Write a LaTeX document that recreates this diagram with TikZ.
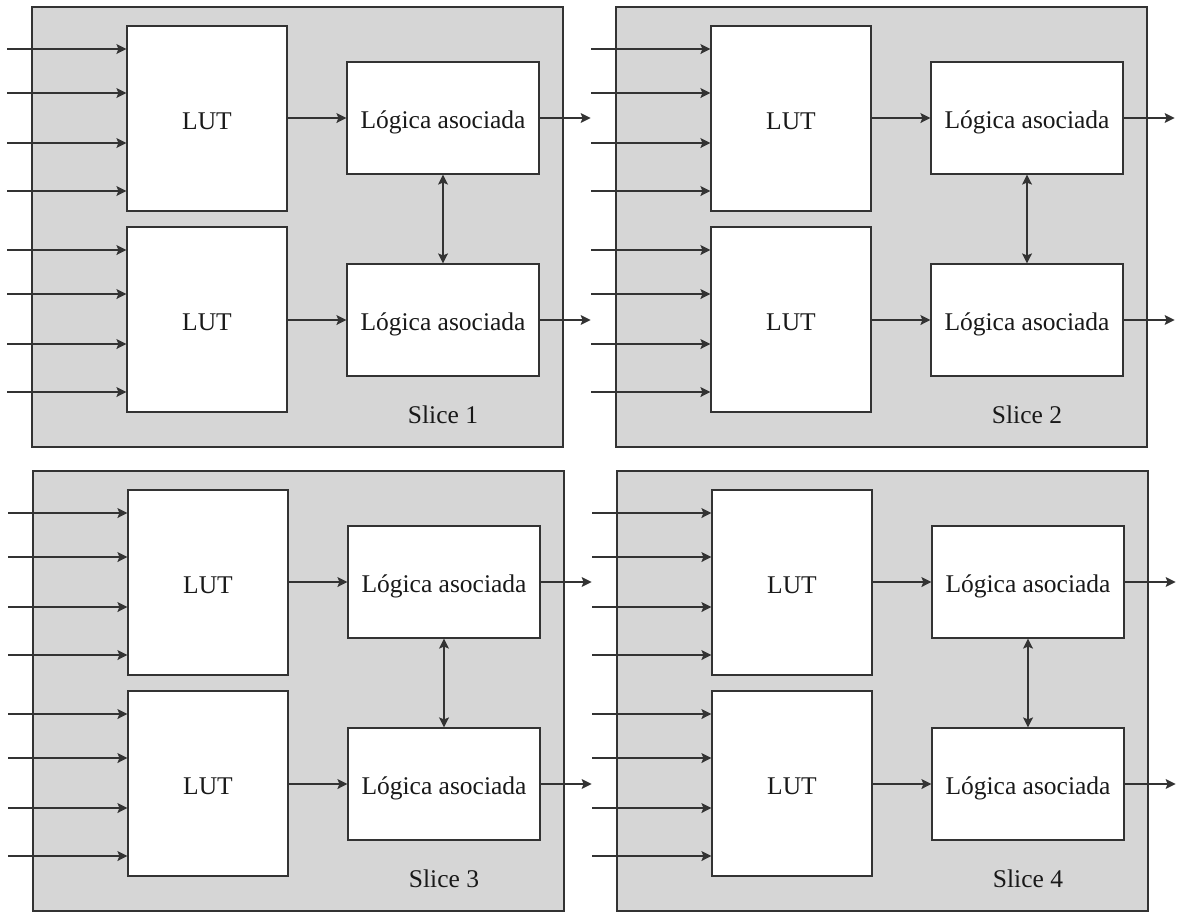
\documentclass[tikz,border=0pt]{standalone}
\usepackage{fontspec}
\setmainfont{Liberation Serif}
\usetikzlibrary{arrows.meta}
\definecolor{linegray}{HTML}{333333}
\definecolor{slicegray}{HTML}{D6D6D6}
\begin{document}
\begin{tikzpicture}[x=1pt,y=-1pt,line width=1.2pt,
    every node/.style={font=\fontsize{25.5}{30}\selectfont,text=black!90,inner sep=0pt},
    slice/.style={draw=linegray,fill=slicegray,minimum width=531pt,minimum height=440pt},
    lut/.style={draw=linegray,fill=white,minimum width=160pt,minimum height=185pt,text height=21pt,text depth=0pt},
    logic/.style={draw=linegray,fill=white,minimum width=192pt,minimum height=112pt,text height=21pt,text depth=0pt},
    arr/.style={draw=linegray,-{Stealth[length=10pt,width=10pt,inset=2pt]}},
    darr/.style={draw=linegray,{Stealth[length=10pt,width=10pt,inset=2pt]}-{Stealth[length=10pt,width=10pt,inset=2pt]}}]
  \useasboundingbox (0,0) rectangle (1181,916);
  \foreach \s/\dx/\dy in {1/0/0,2/584/0,3/1/464,4/585/464}{
    \begin{scope}[shift={(\dx,\dy)}]
      \node[slice] (slice\s) at (297.5,227) {};
      \node[lut] (lutA\s) at (207,118.5) {LUT};
      \node[lut] (lutB\s) at (207,319.5) {LUT};
      \node[logic] (logA\s) at (443,118) {Lógica asociada};
      \node[logic] (logB\s) at (443,320) {Lógica asociada};
      \node (label\s) at (443,415) {Slice \s};
      % entradas de las LUT
      \foreach \y in {23,67,117,165}{
        \coordinate (inA) at (7,{26+\y});
        \draw[arr] (inA) -- (inA -| lutA\s.west);
        \coordinate (inB) at (7,{227+\y});
        \draw[arr] (inB) -- (inB -| lutB\s.west);
      }
      \draw[arr] (lutA\s.east |- logA\s.west) -- (logA\s.west);
      \draw[arr] (lutB\s.east |- logB\s.west) -- (logB\s.west);
      \draw[darr] (logA\s.south) -- (logB\s.north);
      % salidas
      \coordinate (outA) at ([xshift=51pt]logA\s.east);
      \coordinate (outB) at ([xshift=51pt]logB\s.east);
      \draw[arr] (logA\s.east) -- (outA);
      \draw[arr] (logB\s.east) -- (outB);
    \end{scope}
  }
\end{tikzpicture}
\end{document}
